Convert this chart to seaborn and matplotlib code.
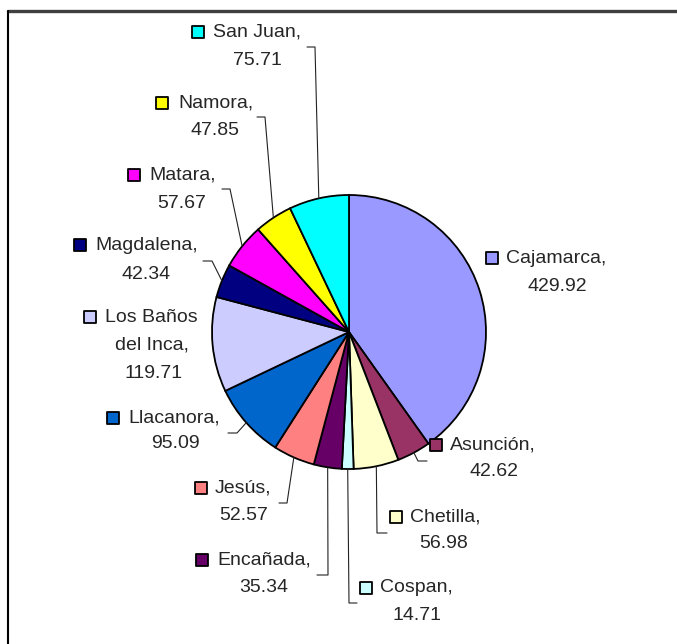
import matplotlib
matplotlib.use("Agg")
import matplotlib.pyplot as plt
import numpy as np
import seaborn as sns


municipios = ["Cajamarca", "Asunción", "Chetilla", "Cospan", "Encañada", "Jesús",
              "Llacanora", "Los Baños del Inca", "Magdalena", "Matara", "Namora", "San Juan"]
valores = [429.92, 42.62, 56.98, 14.71, 35.34, 52.57, 95.09, 119.71, 42.34, 57.67, 47.85, 75.71]
colores = ["#9999FF", "#993366", "#FFFFCC", "#CCFFFF", "#660066", "#FF8080",
           "#0066CC", "#CCCCFF", "#000080", "#FF00FF", "#FFFF00", "#00FFFF"]

# label layout in pixels (y counted from the top):
# marker x, text left x, first line y, value centre x, value y, leader elbow, tick end x
layout = {
    "Cajamarca": (492, 506, 258, 557, 286, None, None),
    "Asunción": (436, 450, 445, 494, 472, (418, 461), 427),
    "Chetilla": (396, 410, 517, 444, 544, (377, 533), 387),
    "Cospan": (366, 380, 588, 417, 615, (349, 603), 357),
    "Encañada": (202, 217, 560, 264, 587, (328, 575), 317),
    "Jesús": (201, 215, 488, 244, 516, (287, 503), 279),
    "Llacanora": (113, 128, 418, 175, 444, (237, 433), 228),
    "Los Baños del Inca": (90, 105, 317, 154, 373, None, None),
    "Magdalena": (80, 95, 245, 146, 274, (212, 261), 203),
    "Matara": (134, 149, 175, 182, 203, (230, 189), 222),
    "Namora": (162, 178, 103, 215, 130, (265, 117), 257),
    "San Juan": (198, 213, 32, 257, 60, (315, 47), 307),
}
wrap = {"Los Baños del Inca": ("Los Baños", "del Inca,", 152, 345)}

W, H = 677, 644
cx, cy, radius = 349, 332, 137
font_size = 14


def up(y):
    return H - y


def main():
    sns.set_style("white")
    plt.rcParams["font.family"] = ["Liberation Sans", "DejaVu Sans"]

    fig = plt.figure(figsize=(W / 100, H / 100), dpi=100)
    ax = fig.add_axes([0, 0, 1, 1])
    wedges, _ = ax.pie(valores, colors=colores, startangle=90, counterclock=False,
                       center=(cx, up(cy)), radius=radius,
                       wedgeprops=dict(edgecolor="black", linewidth=1.3))
    ax.set_xlim(0, W)
    ax.set_ylim(0, H)
    ax.set_aspect("equal")
    ax.axis("off")

    for w, name, val, col in zip(wedges, municipios, valores, colores):
        mx, tx, y1, vx, vy, elbow, tick = layout[name]
        if name in wrap:
            first, second, sx, sy = wrap[name]
            ax.text(sx, up(sy), second, ha="center", va="center", fontsize=font_size)
        else:
            first = name + ","
        ax.text(tx, up(y1), first, ha="left", va="center", fontsize=font_size)
        ax.text(vx, up(vy), f"{val:.2f}", ha="center", va="center", fontsize=font_size)
        ax.scatter([mx], [up(y1)], marker="s", s=72, color=col,
                   edgecolors="black", linewidths=1.3, zorder=5)
        if elbow is not None:
            mid = np.deg2rad((w.theta1 + w.theta2) / 2)
            ex = cx + radius * np.cos(mid)
            ey = up(cy) + radius * np.sin(mid)
            ax.plot([ex, elbow[0], tick], [ey, up(elbow[1]), up(elbow[1])],
                    color="#222222", linewidth=0.8, zorder=1)

    # outer frame: heavy top rule and left rule
    ax.plot([8, W], [up(10.5), up(10.5)], color="#404040", linewidth=2.4, clip_on=False)
    ax.plot([8, 8], [up(10.5), 0], color="black", linewidth=1.5, clip_on=False)

    fig.savefig("out.png", dpi=100, facecolor="white")


if __name__ == "__main__":
    main()
